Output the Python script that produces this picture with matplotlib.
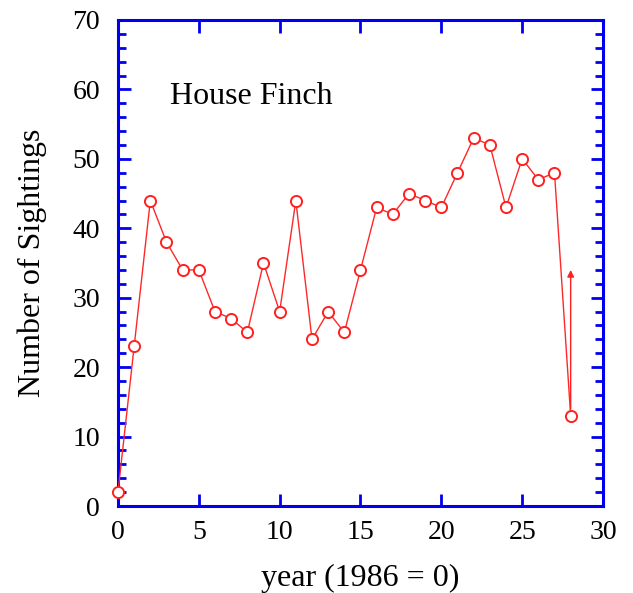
import numpy as np
import matplotlib.pyplot as plt
from matplotlib.ticker import MultipleLocator

years = list(range(29))
sightings = [2, 23, 44, 38, 34, 34, 28, 27, 25, 35, 28, 44, 24, 28, 25, 34,
             43, 42, 45, 44, 43, 48, 53, 52, 43, 50, 47, 48, 13]
arrow_year = 28
arrow_from = 13
arrow_to = 34

plt.rcParams['font.family'] = ['Liberation Serif', 'DejaVu Serif']

fig = plt.figure(figsize=(6.33, 5.93), dpi=100)
ax = fig.add_axes([0.1864, 0.1467, 0.7662, 0.8196])

ax.plot(years, sightings, color='#ff2828', lw=1.0, marker='o', ms=8,
        mfc='white', mec='#ff2020', mew=1.4, clip_on=False, zorder=3)
ax.annotate('', xy=(arrow_year, arrow_to), xytext=(arrow_year, arrow_from),
            arrowprops=dict(arrowstyle='-|>', color='#ff2020', lw=1.0,
                            mutation_scale=10, shrinkA=5, shrinkB=0))

ax.text(3.2, 59, 'House Finch', fontsize=23, va='center', ha='left')

ax.set_xlim(0, 30)
ax.set_ylim(0, 70)
ax.xaxis.set_major_locator(MultipleLocator(5))
ax.yaxis.set_major_locator(MultipleLocator(10))
ax.yaxis.set_minor_locator(MultipleLocator(2))

for s in ax.spines.values():
    s.set_color('#0000ee')
    s.set_linewidth(2.2)
ax.tick_params(which='both', direction='in', color='#0000ee', top=True,
               right=True, labelsize=20)
ax.tick_params(axis='x', pad=10)
ax.tick_params(axis='y', pad=13)
ax.tick_params(which='major', length=9, width=2)
ax.tick_params(which='minor', length=6, width=2)

ax.set_xlabel('year (1986 = 0)', fontsize=23, labelpad=14)
ax.set_ylabel('Number of Sightings', fontsize=23, labelpad=18)

fig.savefig('out.png', dpi=100)
